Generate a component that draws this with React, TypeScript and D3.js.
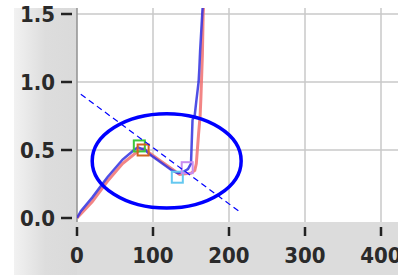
import { useEffect, useRef } from 'react';
import * as d3 from 'd3';

// series (x, y)
const blueX = [0, 5, 20, 40, 60, 75, 80, 90, 95, 110, 125, 133, 140, 146, 150, 152, 155, 157, 160, 161, 162, 165, 166];
const blueY = [0, 0.05, 0.15, 0.3, 0.43, 0.5, 0.52, 0.5, 0.47, 0.41, 0.35, 0.33, 0.34, 0.36, 0.4, 0.72, 0.76, 0.86, 1.0, 1.1, 1.23, 1.52, 1.6];
const redX = [0, 20, 40, 60, 80, 88, 95, 110, 125, 135, 150, 155, 157, 160, 162, 163, 165, 166, 167];
const redY = [0, 0.12, 0.27, 0.4, 0.49, 0.51, 0.48, 0.42, 0.36, 0.32, 0.33, 0.35, 0.4, 0.62, 0.75, 0.88, 1.2, 1.5, 1.6];

// hollow square markers
const markerX = [82, 87, 132, 145];
const markerY = [0.53, 0.5, 0.3, 0.37];
const markerColors = ['#3cc83c', '#d2641e', '#64c8f0', '#c88cf0'];

// dashed guide and the circled region
const guideX = [5, 213];
const guideY = [0.91, 0.05];
const ellipseCenter = [118, 0.42];
const ellipseRadii = [98, 0.347];

const xTicks = [0, 100, 200, 300, 400];
const yTicks = [0, 0.5, 1.0, 1.5];

export default function App() {
  const svgRef = useRef<SVGSVGElement>(null);

  useEffect(() => {
    if (!svgRef.current) return;
    const width = 398;
    const height = 277;

    d3.select(svgRef.current).selectAll('*').remove();
    const svg = d3.select(svgRef.current)
      .attr('width', width)
      .attr('height', height)
      .attr('viewBox', `0 0 ${width} ${height}`);

    const x = d3.scaleLinear().domain([0, 400]).range([77, 381]);
    const y = d3.scaleLinear().domain([0, 1.5]).range([218, 14]);

    // gray panel with light gradient on the left
    const defs = svg.append('defs');
    const grad = defs.append('linearGradient').attr('id', 'leftGrad')
      .attr('x1', '0').attr('x2', '1').attr('y1', '0').attr('y2', '0');
    grad.append('stop').attr('offset', '0').attr('stop-color', '#f2f2f2');
    grad.append('stop').attr('offset', '0.5').attr('stop-color', '#dddddd');
    grad.append('stop').attr('offset', '1').attr('stop-color', '#dadada');

    svg.append('rect').attr('x', 14).attr('y', 8).attr('width', width - 14).attr('height', 267)
      .style('fill', '#dcdcdc');
    svg.append('rect').attr('x', 14).attr('y', 8).attr('width', 63).attr('height', 267)
      .style('fill', 'url(#leftGrad)');

    // plot area
    svg.append('rect').attr('x', 77).attr('y', 8).attr('width', width - 77).attr('height', 214)
      .style('fill', '#ffffff');

    const clip = defs.append('clipPath').attr('id', 'plotClip');
    clip.append('rect').attr('x', 77).attr('y', 8).attr('width', width - 77).attr('height', 214);

    // grid
    svg.append('g').selectAll('line')
      .data(xTicks.filter(d => d > 0))
      .enter().append('line')
      .attr('x1', d => x(d)).attr('x2', d => x(d))
      .attr('y1', 8).attr('y2', 222)
      .style('stroke', '#c8c8c8').style('stroke-width', 1.5);
    svg.append('g').selectAll('line')
      .data(yTicks.filter(d => d > 0))
      .enter().append('line')
      .attr('x1', 77).attr('x2', width)
      .attr('y1', d => y(d)).attr('y2', d => y(d))
      .style('stroke', '#c8c8c8').style('stroke-width', 1.5);

    // left axis line
    svg.append('line').attr('x1', 77).attr('x2', 77).attr('y1', 8).attr('y2', 222)
      .style('stroke', '#909090').style('stroke-width', 1.5);

    // ticks + labels
    const font = '"DejaVu Sans Condensed", "DejaVu Sans", sans-serif';
    const yAx = svg.append('g');
    yAx.selectAll('line').data(yTicks).enter().append('line')
      .attr('x1', 61).attr('x2', 72)
      .attr('y1', d => y(d)).attr('y2', d => y(d))
      .style('stroke', '#222').style('stroke-width', 2.5);
    yAx.selectAll('text').data(yTicks).enter().append('text')
      .attr('x', 55).attr('y', d => y(d) + 8)
      .attr('text-anchor', 'end')
      .text(d => d3.format('.1f')(d))
      .style('font-family', font).style('font-size', '22px').style('font-weight', 'bold')
      .style('fill', '#2a2a2a');

    const xAx = svg.append('g');
    xAx.selectAll('line').data(xTicks).enter().append('line')
      .attr('x1', d => x(d)).attr('x2', d => x(d))
      .attr('y1', 227).attr('y2', 236)
      .style('stroke', '#222').style('stroke-width', 2.5);
    xAx.selectAll('text').data(xTicks).enter().append('text')
      .attr('x', d => x(d)).attr('y', 263)
      .attr('text-anchor', 'middle')
      .text(d => String(d))
      .style('font-family', font).style('font-size', '22px').style('font-weight', 'bold')
      .style('fill', '#2a2a2a');

    const plot = svg.append('g').attr('clip-path', 'url(#plotClip)');

    const line = d3.line<[number, number]>().x(d => x(d[0])).y(d => y(d[1]));
    const red = redX.map((v, i) => [v, redY[i]] as [number, number]);
    const blue = blueX.map((v, i) => [v, blueY[i]] as [number, number]);

    plot.append('path').attr('d', line(red))
      .style('fill', 'none').style('stroke', '#f07070').style('stroke-opacity', 0.85)
      .style('stroke-width', 3);
    plot.append('path').attr('d', line(blue))
      .style('fill', 'none').style('stroke', '#3030e0').style('stroke-opacity', 0.85)
      .style('stroke-width', 2.5);

    plot.append('g').selectAll('rect')
      .data(markerX.map((v, i) => ({ x: v, y: markerY[i], c: markerColors[i] })))
      .enter().append('rect')
      .attr('x', d => x(d.x) - 5.5).attr('y', d => y(d.y) - 5.5)
      .attr('width', 11).attr('height', 11)
      .style('fill', 'none').style('stroke', d => d.c).style('stroke-width', 2);

    // dashed guide
    plot.append('line')
      .attr('x1', x(guideX[0])).attr('y1', y(guideY[0]))
      .attr('x2', x(guideX[1])).attr('y2', y(guideY[1]))
      .style('stroke', '#0000ff').style('stroke-width', 1.2)
      .style('stroke-dasharray', '6,4');

    // ellipse highlight
    svg.append('ellipse')
      .attr('cx', x(ellipseCenter[0])).attr('cy', y(ellipseCenter[1]))
      .attr('rx', x(ellipseRadii[0]) - x(0)).attr('ry', y(0) - y(ellipseRadii[1]))
      .style('fill', 'none').style('stroke', '#0000ff').style('stroke-width', 3.5);
  }, []);

  return (
    <div style={{ position: 'fixed', left: 0, top: 0, width: 398, height: 277, background: '#fff' }}>
      <svg ref={svgRef} style={{ display: 'block' }} />
    </div>
  );
}
